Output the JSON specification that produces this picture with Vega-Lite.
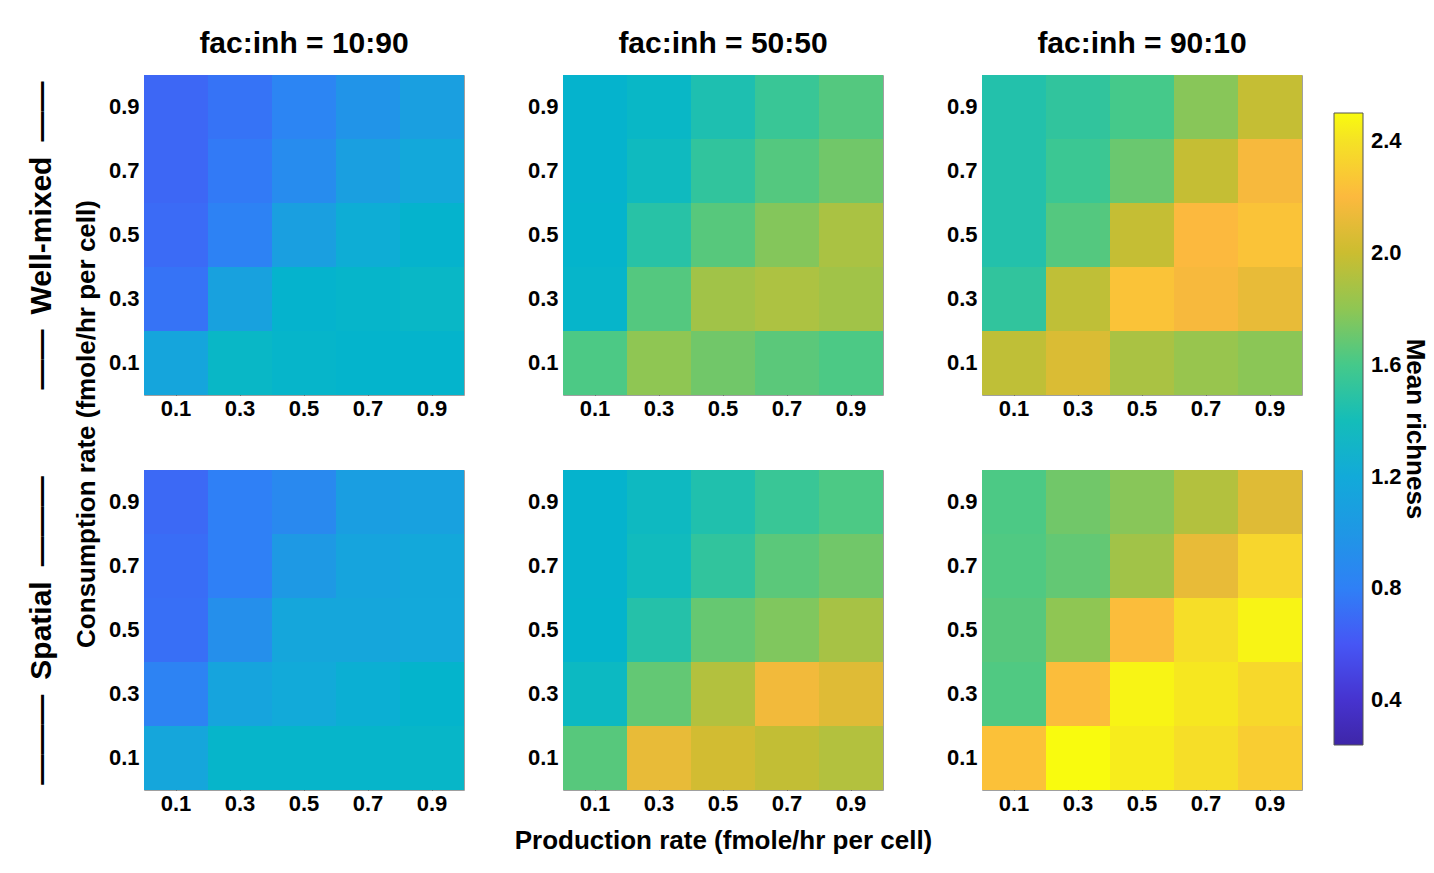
{
  "$schema": "https://vega.github.io/schema/vega-lite/v6.json",
  "background": "white",
  "padding": {"left": 25, "top": 28, "right": 5, "bottom": 5},
  "config": {
    "font": "Liberation Sans",
    "view": {"stroke": "#a0a0a0", "strokeWidth": 1},
    "axis": {
      "labelFont": "Liberation Sans", "labelFontWeight": "bold", "labelFontSize": 22, "labelColor": "#000000",
      "domain": false, "ticks": true, "tickSize": -6, "tickColor": "#404040", "tickWidth": 1,
      "labelPadding": 11, "zindex": 1,
      "titleFont": "Liberation Sans", "titleFontWeight": "bold", "titleFontSize": 26, "titleColor": "#000000"
    },
    "axisX": {"labelPadding": 9},
    "title": {"font": "Liberation Sans", "fontWeight": "bold", "fontSize": 30, "color": "#000000", "offset": 16, "baseline": "alphabetic"}
  },
  "title": {"text": "Consumption rate (fmole/hr per cell)", "orient": "left", "anchor": "middle", "fontSize": 26, "offset": -95, "dx": 17, "baseline": "alphabetic"},
  "data": {"values": [
    {"m":"WM","r":"10:90","c":0.9,"p":0.1,"v":0.68},{"m":"WM","r":"10:90","c":0.9,"p":0.3,"v":0.74},{"m":"WM","r":"10:90","c":0.9,"p":0.5,"v":0.84},{"m":"WM","r":"10:90","c":0.9,"p":0.7,"v":0.97},{"m":"WM","r":"10:90","c":0.9,"p":0.9,"v":1.08},
    {"m":"WM","r":"10:90","c":0.7,"p":0.1,"v":0.68},{"m":"WM","r":"10:90","c":0.7,"p":0.3,"v":0.77},{"m":"WM","r":"10:90","c":0.7,"p":0.5,"v":0.90},{"m":"WM","r":"10:90","c":0.7,"p":0.7,"v":1.08},{"m":"WM","r":"10:90","c":0.7,"p":0.9,"v":1.18},
    {"m":"WM","r":"10:90","c":0.5,"p":0.1,"v":0.70},{"m":"WM","r":"10:90","c":0.5,"p":0.3,"v":0.82},{"m":"WM","r":"10:90","c":0.5,"p":0.5,"v":1.08},{"m":"WM","r":"10:90","c":0.5,"p":0.7,"v":1.23},{"m":"WM","r":"10:90","c":0.5,"p":0.9,"v":1.29},
    {"m":"WM","r":"10:90","c":0.3,"p":0.1,"v":0.74},{"m":"WM","r":"10:90","c":0.3,"p":0.3,"v":1.11},{"m":"WM","r":"10:90","c":0.3,"p":0.5,"v":1.29},{"m":"WM","r":"10:90","c":0.3,"p":0.7,"v":1.31},{"m":"WM","r":"10:90","c":0.3,"p":0.9,"v":1.33},
    {"m":"WM","r":"10:90","c":0.1,"p":0.1,"v":1.15},{"m":"WM","r":"10:90","c":0.1,"p":0.3,"v":1.33},{"m":"WM","r":"10:90","c":0.1,"p":0.5,"v":1.31},{"m":"WM","r":"10:90","c":0.1,"p":0.7,"v":1.30},{"m":"WM","r":"10:90","c":0.1,"p":0.9,"v":1.30},

    {"m":"WM","r":"50:50","c":0.9,"p":0.1,"v":1.29},{"m":"WM","r":"50:50","c":0.9,"p":0.3,"v":1.33},{"m":"WM","r":"50:50","c":0.9,"p":0.5,"v":1.44},{"m":"WM","r":"50:50","c":0.9,"p":0.7,"v":1.55},{"m":"WM","r":"50:50","c":0.9,"p":0.9,"v":1.64},
    {"m":"WM","r":"50:50","c":0.7,"p":0.1,"v":1.29},{"m":"WM","r":"50:50","c":0.7,"p":0.3,"v":1.37},{"m":"WM","r":"50:50","c":0.7,"p":0.5,"v":1.52},{"m":"WM","r":"50:50","c":0.7,"p":0.7,"v":1.64},{"m":"WM","r":"50:50","c":0.7,"p":0.9,"v":1.72},
    {"m":"WM","r":"50:50","c":0.5,"p":0.1,"v":1.30},{"m":"WM","r":"50:50","c":0.5,"p":0.3,"v":1.48},{"m":"WM","r":"50:50","c":0.5,"p":0.5,"v":1.65},{"m":"WM","r":"50:50","c":0.5,"p":0.7,"v":1.77},{"m":"WM","r":"50:50","c":0.5,"p":0.9,"v":1.89},
    {"m":"WM","r":"50:50","c":0.3,"p":0.1,"v":1.31},{"m":"WM","r":"50:50","c":0.3,"p":0.3,"v":1.64},{"m":"WM","r":"50:50","c":0.3,"p":0.5,"v":1.86},{"m":"WM","r":"50:50","c":0.3,"p":0.7,"v":1.90},{"m":"WM","r":"50:50","c":0.3,"p":0.9,"v":1.86},
    {"m":"WM","r":"50:50","c":0.1,"p":0.1,"v":1.62},{"m":"WM","r":"50:50","c":0.1,"p":0.3,"v":1.80},{"m":"WM","r":"50:50","c":0.1,"p":0.5,"v":1.72},{"m":"WM","r":"50:50","c":0.1,"p":0.7,"v":1.66},{"m":"WM","r":"50:50","c":0.1,"p":0.9,"v":1.62},

    {"m":"WM","r":"90:10","c":0.9,"p":0.1,"v":1.46},{"m":"WM","r":"90:10","c":0.9,"p":0.3,"v":1.52},{"m":"WM","r":"90:10","c":0.9,"p":0.5,"v":1.60},{"m":"WM","r":"90:10","c":0.9,"p":0.7,"v":1.78},{"m":"WM","r":"90:10","c":0.9,"p":0.9,"v":1.98},
    {"m":"WM","r":"90:10","c":0.7,"p":0.1,"v":1.46},{"m":"WM","r":"90:10","c":0.7,"p":0.3,"v":1.56},{"m":"WM","r":"90:10","c":0.7,"p":0.5,"v":1.70},{"m":"WM","r":"90:10","c":0.7,"p":0.7,"v":1.98},{"m":"WM","r":"90:10","c":0.7,"p":0.9,"v":2.18},
    {"m":"WM","r":"90:10","c":0.5,"p":0.1,"v":1.46},{"m":"WM","r":"90:10","c":0.5,"p":0.3,"v":1.64},{"m":"WM","r":"90:10","c":0.5,"p":0.5,"v":1.98},{"m":"WM","r":"90:10","c":0.5,"p":0.7,"v":2.20},{"m":"WM","r":"90:10","c":0.5,"p":0.9,"v":2.25},
    {"m":"WM","r":"90:10","c":0.3,"p":0.1,"v":1.52},{"m":"WM","r":"90:10","c":0.3,"p":0.3,"v":1.96},{"m":"WM","r":"90:10","c":0.3,"p":0.5,"v":2.25},{"m":"WM","r":"90:10","c":0.3,"p":0.7,"v":2.18},{"m":"WM","r":"90:10","c":0.3,"p":0.9,"v":2.12},
    {"m":"WM","r":"90:10","c":0.1,"p":0.1,"v":1.96},{"m":"WM","r":"90:10","c":0.1,"p":0.3,"v":2.06},{"m":"WM","r":"90:10","c":0.1,"p":0.5,"v":1.89},{"m":"WM","r":"90:10","c":0.1,"p":0.7,"v":1.83},{"m":"WM","r":"90:10","c":0.1,"p":0.9,"v":1.79},

    {"m":"SP","r":"10:90","c":0.9,"p":0.1,"v":0.69},{"m":"SP","r":"10:90","c":0.9,"p":0.3,"v":0.80},{"m":"SP","r":"10:90","c":0.9,"p":0.5,"v":0.88},{"m":"SP","r":"10:90","c":0.9,"p":0.7,"v":1.07},{"m":"SP","r":"10:90","c":0.9,"p":0.9,"v":1.10},
    {"m":"SP","r":"10:90","c":0.7,"p":0.1,"v":0.71},{"m":"SP","r":"10:90","c":0.7,"p":0.3,"v":0.80},{"m":"SP","r":"10:90","c":0.7,"p":0.5,"v":1.02},{"m":"SP","r":"10:90","c":0.7,"p":0.7,"v":1.14},{"m":"SP","r":"10:90","c":0.7,"p":0.9,"v":1.18},
    {"m":"SP","r":"10:90","c":0.5,"p":0.1,"v":0.72},{"m":"SP","r":"10:90","c":0.5,"p":0.3,"v":0.93},{"m":"SP","r":"10:90","c":0.5,"p":0.5,"v":1.16},{"m":"SP","r":"10:90","c":0.5,"p":0.7,"v":1.16},{"m":"SP","r":"10:90","c":0.5,"p":0.9,"v":1.19},
    {"m":"SP","r":"10:90","c":0.3,"p":0.1,"v":0.83},{"m":"SP","r":"10:90","c":0.3,"p":0.3,"v":1.14},{"m":"SP","r":"10:90","c":0.3,"p":0.5,"v":1.20},{"m":"SP","r":"10:90","c":0.3,"p":0.7,"v":1.25},{"m":"SP","r":"10:90","c":0.3,"p":0.9,"v":1.30},
    {"m":"SP","r":"10:90","c":0.1,"p":0.1,"v":1.16},{"m":"SP","r":"10:90","c":0.1,"p":0.3,"v":1.31},{"m":"SP","r":"10:90","c":0.1,"p":0.5,"v":1.31},{"m":"SP","r":"10:90","c":0.1,"p":0.7,"v":1.31},{"m":"SP","r":"10:90","c":0.1,"p":0.9,"v":1.32},

    {"m":"SP","r":"50:50","c":0.9,"p":0.1,"v":1.29},{"m":"SP","r":"50:50","c":0.9,"p":0.3,"v":1.36},{"m":"SP","r":"50:50","c":0.9,"p":0.5,"v":1.45},{"m":"SP","r":"50:50","c":0.9,"p":0.7,"v":1.55},{"m":"SP","r":"50:50","c":0.9,"p":0.9,"v":1.62},
    {"m":"SP","r":"50:50","c":0.7,"p":0.1,"v":1.29},{"m":"SP","r":"50:50","c":0.7,"p":0.3,"v":1.38},{"m":"SP","r":"50:50","c":0.7,"p":0.5,"v":1.52},{"m":"SP","r":"50:50","c":0.7,"p":0.7,"v":1.66},{"m":"SP","r":"50:50","c":0.7,"p":0.9,"v":1.72},
    {"m":"SP","r":"50:50","c":0.5,"p":0.1,"v":1.30},{"m":"SP","r":"50:50","c":0.5,"p":0.3,"v":1.47},{"m":"SP","r":"50:50","c":0.5,"p":0.5,"v":1.69},{"m":"SP","r":"50:50","c":0.5,"p":0.7,"v":1.76},{"m":"SP","r":"50:50","c":0.5,"p":0.9,"v":1.88},
    {"m":"SP","r":"50:50","c":0.3,"p":0.1,"v":1.35},{"m":"SP","r":"50:50","c":0.3,"p":0.3,"v":1.68},{"m":"SP","r":"50:50","c":0.3,"p":0.5,"v":1.92},{"m":"SP","r":"50:50","c":0.3,"p":0.7,"v":2.16},{"m":"SP","r":"50:50","c":0.3,"p":0.9,"v":2.08},
    {"m":"SP","r":"50:50","c":0.1,"p":0.1,"v":1.65},{"m":"SP","r":"50:50","c":0.1,"p":0.3,"v":2.12},{"m":"SP","r":"50:50","c":0.1,"p":0.5,"v":2.03},{"m":"SP","r":"50:50","c":0.1,"p":0.7,"v":1.97},{"m":"SP","r":"50:50","c":0.1,"p":0.9,"v":1.92},

    {"m":"SP","r":"90:10","c":0.9,"p":0.1,"v":1.62},{"m":"SP","r":"90:10","c":0.9,"p":0.3,"v":1.72},{"m":"SP","r":"90:10","c":0.9,"p":0.5,"v":1.78},{"m":"SP","r":"90:10","c":0.9,"p":0.7,"v":1.92},{"m":"SP","r":"90:10","c":0.9,"p":0.9,"v":2.08},
    {"m":"SP","r":"90:10","c":0.7,"p":0.1,"v":1.63},{"m":"SP","r":"90:10","c":0.7,"p":0.3,"v":1.68},{"m":"SP","r":"90:10","c":0.7,"p":0.5,"v":1.86},{"m":"SP","r":"90:10","c":0.7,"p":0.7,"v":2.12},{"m":"SP","r":"90:10","c":0.7,"p":0.9,"v":2.34},
    {"m":"SP","r":"90:10","c":0.5,"p":0.1,"v":1.65},{"m":"SP","r":"90:10","c":0.5,"p":0.3,"v":1.80},{"m":"SP","r":"90:10","c":0.5,"p":0.5,"v":2.22},{"m":"SP","r":"90:10","c":0.5,"p":0.7,"v":2.38},{"m":"SP","r":"90:10","c":0.5,"p":0.9,"v":2.47},
    {"m":"SP","r":"90:10","c":0.3,"p":0.1,"v":1.63},{"m":"SP","r":"90:10","c":0.3,"p":0.3,"v":2.22},{"m":"SP","r":"90:10","c":0.3,"p":0.5,"v":2.47},{"m":"SP","r":"90:10","c":0.3,"p":0.7,"v":2.42},{"m":"SP","r":"90:10","c":0.3,"p":0.9,"v":2.35},
    {"m":"SP","r":"90:10","c":0.1,"p":0.1,"v":2.24},{"m":"SP","r":"90:10","c":0.1,"p":0.3,"v":2.50},{"m":"SP","r":"90:10","c":0.1,"p":0.5,"v":2.44},{"m":"SP","r":"90:10","c":0.1,"p":0.7,"v":2.38},{"m":"SP","r":"90:10","c":0.1,"p":0.9,"v":2.30}
  ]},
  "bounds": "flush",
  "columns": 3,
  "spacing": {"row": 75, "column": 99},
  "concat": [
    {
      "width": 320, "height": 320,
      "title": "fac:inh = 10:90",
      "transform": [{"filter": "datum.m == 'WM' && datum.r == '10:90'"}],
      "mark": "rect",
      "encoding": {
        "x": {"field": "p", "type": "ordinal", "scale": {"paddingInner": 0, "paddingOuter": 0}, "axis": {"title": null, "labelAngle": 0, "format": ".1f"}},
        "y": {"field": "c", "type": "ordinal", "sort": "descending", "scale": {"paddingInner": 0, "paddingOuter": 0}, "axis": {"title": "——\u2002Well-mixed\u2002——", "titleFontSize": 30, "titlePadding": 52, "format": ".1f"}},
        "color": {"field": "v", "type": "quantitative",
          "scale": {"domain": [0.24, 0.4, 0.6, 0.8, 1.0, 1.2, 1.3, 1.4, 1.6, 1.8, 2.0, 2.2, 2.4, 2.5], "range": ["#3e26a8", "#4633cf", "#4656f5", "#2f80f6", "#1f97e5", "#12aad9", "#04b4cc", "#14bdb9", "#45c98a", "#8fc653", "#cbbd30", "#fcb93e", "#f5e225", "#f9fb0e"], "interpolate": "rgb"},
          "legend": {"orient": "none", "legendX": 1190, "legendY": 38, "direction": "vertical", "gradientLength": 632, "gradientThickness": 29, "values": [0.4, 0.8, 1.2, 1.6, 2.0, 2.4], "format": ".1f", "labelFont": "Liberation Sans", "labelFontSize": 22, "labelFontWeight": "bold", "labelColor": "#000000", "labelOffset": 8, "labelOverlap": false, "title": "Mean richness", "titleLimit": 400, "titleOrient": "right", "titleAngle": 90, "titleFont": "Liberation Sans", "titleFontSize": 26, "titleFontWeight": "bold", "titleColor": "#000000", "titleAnchor": "middle", "titleBaseline": "bottom", "titlePadding": 0, "gradientStrokeColor": "#555555", "gradientStrokeWidth": 1, "padding": 0}}
      }
    },
    {
      "width": 320, "height": 320,
      "title": "fac:inh = 50:50",
      "transform": [{"filter": "datum.m == 'WM' && datum.r == '50:50'"}],
      "mark": "rect",
      "encoding": {
        "x": {"field": "p", "type": "ordinal", "scale": {"paddingInner": 0, "paddingOuter": 0}, "axis": {"title": null, "labelAngle": 0, "format": ".1f"}},
        "y": {"field": "c", "type": "ordinal", "sort": "descending", "scale": {"paddingInner": 0, "paddingOuter": 0}, "axis": {"title": null, "format": ".1f"}},
        "color": {"field": "v", "type": "quantitative",
          "scale": {"domain": [0.24, 0.4, 0.6, 0.8, 1.0, 1.2, 1.3, 1.4, 1.6, 1.8, 2.0, 2.2, 2.4, 2.5], "range": ["#3e26a8", "#4633cf", "#4656f5", "#2f80f6", "#1f97e5", "#12aad9", "#04b4cc", "#14bdb9", "#45c98a", "#8fc653", "#cbbd30", "#fcb93e", "#f5e225", "#f9fb0e"], "interpolate": "rgb"}}
      }
    },
    {
      "width": 320, "height": 320,
      "title": "fac:inh = 90:10",
      "transform": [{"filter": "datum.m == 'WM' && datum.r == '90:10'"}],
      "mark": "rect",
      "encoding": {
        "x": {"field": "p", "type": "ordinal", "scale": {"paddingInner": 0, "paddingOuter": 0}, "axis": {"title": null, "labelAngle": 0, "format": ".1f"}},
        "y": {"field": "c", "type": "ordinal", "sort": "descending", "scale": {"paddingInner": 0, "paddingOuter": 0}, "axis": {"title": null, "format": ".1f"}},
        "color": {"field": "v", "type": "quantitative",
          "scale": {"domain": [0.24, 0.4, 0.6, 0.8, 1.0, 1.2, 1.3, 1.4, 1.6, 1.8, 2.0, 2.2, 2.4, 2.5], "range": ["#3e26a8", "#4633cf", "#4656f5", "#2f80f6", "#1f97e5", "#12aad9", "#04b4cc", "#14bdb9", "#45c98a", "#8fc653", "#cbbd30", "#fcb93e", "#f5e225", "#f9fb0e"], "interpolate": "rgb"}}
      }
    },
    {
      "width": 320, "height": 320,
      "transform": [{"filter": "datum.m == 'SP' && datum.r == '10:90'"}],
      "mark": "rect",
      "encoding": {
        "x": {"field": "p", "type": "ordinal", "scale": {"paddingInner": 0, "paddingOuter": 0}, "axis": {"title": null, "labelAngle": 0, "format": ".1f"}},
        "y": {"field": "c", "type": "ordinal", "sort": "descending", "scale": {"paddingInner": 0, "paddingOuter": 0}, "axis": {"title": "———\u2002Spatial\u2002———", "titleFontSize": 30, "titlePadding": 52, "format": ".1f"}},
        "color": {"field": "v", "type": "quantitative",
          "scale": {"domain": [0.24, 0.4, 0.6, 0.8, 1.0, 1.2, 1.3, 1.4, 1.6, 1.8, 2.0, 2.2, 2.4, 2.5], "range": ["#3e26a8", "#4633cf", "#4656f5", "#2f80f6", "#1f97e5", "#12aad9", "#04b4cc", "#14bdb9", "#45c98a", "#8fc653", "#cbbd30", "#fcb93e", "#f5e225", "#f9fb0e"], "interpolate": "rgb"}}
      }
    },
    {
      "width": 320, "height": 320,
      "transform": [{"filter": "datum.m == 'SP' && datum.r == '50:50'"}],
      "mark": "rect",
      "encoding": {
        "x": {"field": "p", "type": "ordinal", "scale": {"paddingInner": 0, "paddingOuter": 0}, "axis": {"title": "Production rate (fmole/hr per cell)", "titlePadding": 13, "labelAngle": 0, "format": ".1f"}},
        "y": {"field": "c", "type": "ordinal", "sort": "descending", "scale": {"paddingInner": 0, "paddingOuter": 0}, "axis": {"title": null, "format": ".1f"}},
        "color": {"field": "v", "type": "quantitative",
          "scale": {"domain": [0.24, 0.4, 0.6, 0.8, 1.0, 1.2, 1.3, 1.4, 1.6, 1.8, 2.0, 2.2, 2.4, 2.5], "range": ["#3e26a8", "#4633cf", "#4656f5", "#2f80f6", "#1f97e5", "#12aad9", "#04b4cc", "#14bdb9", "#45c98a", "#8fc653", "#cbbd30", "#fcb93e", "#f5e225", "#f9fb0e"], "interpolate": "rgb"}}
      }
    },
    {
      "width": 320, "height": 320,
      "transform": [{"filter": "datum.m == 'SP' && datum.r == '90:10'"}],
      "mark": "rect",
      "encoding": {
        "x": {"field": "p", "type": "ordinal", "scale": {"paddingInner": 0, "paddingOuter": 0}, "axis": {"title": null, "labelAngle": 0, "format": ".1f"}},
        "y": {"field": "c", "type": "ordinal", "sort": "descending", "scale": {"paddingInner": 0, "paddingOuter": 0}, "axis": {"title": null, "format": ".1f"}},
        "color": {"field": "v", "type": "quantitative",
          "scale": {"domain": [0.24, 0.4, 0.6, 0.8, 1.0, 1.2, 1.3, 1.4, 1.6, 1.8, 2.0, 2.2, 2.4, 2.5], "range": ["#3e26a8", "#4633cf", "#4656f5", "#2f80f6", "#1f97e5", "#12aad9", "#04b4cc", "#14bdb9", "#45c98a", "#8fc653", "#cbbd30", "#fcb93e", "#f5e225", "#f9fb0e"], "interpolate": "rgb"}}
      }
    }
  ]
}
